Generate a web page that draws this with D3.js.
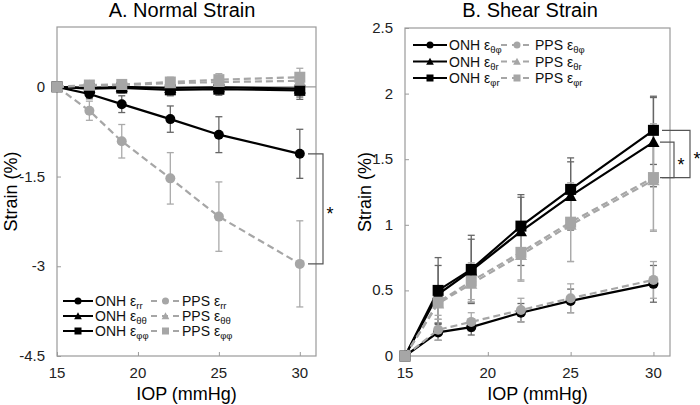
<!DOCTYPE html>
<html><head><meta charset="utf-8">
<script src="https://cdn.jsdelivr.net/npm/d3@7"></script>
<style>body{margin:0;background:#fff}svg{display:block;font-family:"Liberation Sans",Arial,sans-serif}</style>
</head><body><svg id="c" width="700" height="405"></svg>
<script>
const iop = [15, 17, 19, 22, 25, 30];
const xTicks = [15, 20, 25, 30];
const yTicksA = [0, -1.5, -3, -4.5];
const yTicksB = [0, 0.5, 1, 1.5, 2, 2.5];

// A. Normal strain
const onhRR = [0, -0.12, -0.29, -0.54, -0.80, -1.12];
const onhRRerr = [0, 0.08, 0.14, 0.22, 0.30, 0.41];
const onhTT = [0, -0.02, 0.00, -0.02, -0.01, -0.03];
const onhTTerr = [0, 0.06, 0.08, 0.10, 0.10, 0.14];
const onhPP = [0, -0.03, -0.02, -0.05, -0.04, -0.06];
const onhPPerr = [0, 0.06, 0.08, 0.10, 0.10, 0.15];
const ppsRR = [0, -0.40, -0.91, -1.53, -2.17, -2.96];
const ppsRRerr = [0, 0.16, 0.28, 0.43, 0.58, 0.72];
const ppsTT = [0, 0.02, 0.03, 0.06, 0.08, 0.10];
const ppsTTerr = [0, 0.05, 0.07, 0.08, 0.10, 0.12];
const ppsPP = [0, 0.03, 0.04, 0.08, 0.12, 0.16];
const ppsPPerr = [0, 0.05, 0.07, 0.08, 0.10, 0.15];

// B. Shear strain
const onhTP = [0, 0.18, 0.22, 0.33, 0.42, 0.55];
const onhTPerr = [0, 0.06, 0.06, 0.07, 0.09, 0.14];
const onhTR = [0, 0.47, 0.65, 0.95, 1.22, 1.63];
const onhTRerr = [0, 0.22, 0.24, 0.26, 0.26, 0.34];
const onhPR = [0, 0.50, 0.66, 0.99, 1.27, 1.72];
const onhPRerr = [0, 0.25, 0.26, 0.24, 0.24, 0.26];
const ppsTP = [0, 0.20, 0.26, 0.35, 0.44, 0.58];
const ppsTPerr = [0, 0.08, 0.07, 0.09, 0.11, 0.14];
const ppsTR = [0, 0.40, 0.55, 0.77, 1.00, 1.34];
const ppsTRerr = [0, 0.12, 0.14, 0.20, 0.28, 0.38];
const ppsPR = [0, 0.41, 0.57, 0.79, 1.02, 1.36];
const ppsPRerr = [0, 0.10, 0.14, 0.21, 0.30, 0.41];

const BLACK = "#000", GRAY = "#a6a6a6", AXIS = "#9a9a9a";
const svg = d3.select("#c");

function marker(g, shape, x, y, s, color) {
  if (shape === "circle") g.append("circle").attr("cx", x).attr("cy", y).attr("r", s / 2).attr("fill", color);
  else if (shape === "square") g.append("rect").attr("x", x - s / 2).attr("y", y - s / 2).attr("width", s).attr("height", s).attr("fill", color);
  else g.append("path").attr("d", `M${x},${y - s * 0.55}L${x + s * 0.55},${y + s * 0.45}L${x - s * 0.55},${y + s * 0.45}Z`).attr("fill", color);
}

function panel(cfg) {
  const x = d3.scaleLinear().domain([15, 31]).range(cfg.xr);
  const y = d3.scaleLinear().domain(cfg.yd).range(cfg.yr);
  const g = svg.append("g");
  g.append("rect").attr("x", cfg.xr[0]).attr("y", cfg.yr[1]).attr("width", cfg.xr[1] - cfg.xr[0])
    .attr("height", cfg.yr[0] - cfg.yr[1]).attr("fill", "none").attr("stroke", AXIS).attr("stroke-width", 1.2);
  if (cfg.yd[0] < 0) g.append("line").attr("x1", cfg.xr[0]).attr("x2", cfg.xr[1]).attr("y1", y(0)).attr("y2", y(0))
    .attr("stroke", AXIS).attr("stroke-width", 1.2);
  const ya = g.append("g").attr("transform", `translate(${cfg.xr[0]},0)`)
    .call(d3.axisRight(y).tickValues(cfg.yTicks).tickSize(4).tickFormat(""));
  ya.select(".domain").remove(); ya.selectAll("line").attr("stroke", AXIS);
  const xa = g.append("g").attr("transform", `translate(0,${cfg.yr[0]})`)
    .call(d3.axisTop(x).tickValues(xTicks).tickSize(4).tickFormat(""));
  xa.select(".domain").remove(); xa.selectAll("line").attr("stroke", AXIS);
  g.selectAll(".yl").data(cfg.yTicks).join("text").attr("x", cfg.xr[0] - 12).attr("y", d => y(d) + 5)
    .attr("text-anchor", "end").attr("font-size", 15).attr("fill", "#222").text(d => d);
  g.selectAll(".xl").data(xTicks).join("text").attr("x", d => x(d)).attr("y", cfg.yr[0] + 22)
    .attr("text-anchor", "middle").attr("font-size", 15).attr("fill", "#222").text(d => d);
  g.append("text").attr("x", cfg.titleX).attr("y", 17).attr("text-anchor", "middle").attr("font-size", 20).text(cfg.title);
  g.append("text").attr("x", (x(15) + x(31)) / 2).attr("y", 400).attr("text-anchor", "middle").attr("font-size", 18).text("IOP (mmHg)");
  g.append("text").attr("transform", `translate(${cfg.ylabX},${(cfg.yr[0] + cfg.yr[1]) / 2}) rotate(-90)`)
    .attr("text-anchor", "middle").attr("font-size", 18).text("Strain (%)");
  const line = d3.line().x((d, i) => x(iop[i])).y(d => y(d));
  cfg.series.forEach(s => {
    s.v.forEach((v, i) => {
      const e = s.e[i]; if (!e) return;
      const c = s.onh ? "#666" : "#aaa";
      g.append("line").attr("x1", x(iop[i])).attr("x2", x(iop[i])).attr("y1", y(v - e)).attr("y2", y(v + e)).attr("stroke", c).attr("stroke-width", 1.3);
      [v - e, v + e].forEach(t => g.append("line").attr("x1", x(iop[i]) - 3.5).attr("x2", x(iop[i]) + 3.5).attr("y1", y(t)).attr("y2", y(t)).attr("stroke", c).attr("stroke-width", 1.3));
    });
  });
  cfg.series.forEach(s => {
    g.append("path").attr("d", line(s.v)).attr("fill", "none").attr("stroke", s.onh ? BLACK : GRAY)
      .attr("stroke-width", 2.2).attr("stroke-dasharray", s.onh ? null : "7,4");
    s.v.forEach((v, i) => marker(g, s.shape, x(iop[i]), y(v), s.shape === "circle" ? 10 : 11, s.onh ? BLACK : GRAY));
  });
  const L = cfg.legend;
  cfg.series.forEach((s, k) => {
    const row = k % 3, col = s.onh ? 0 : 1;
    const ly = L.y0 + row * L.dy;
    const x0 = col === 0 ? L.a : L.c;
    const x1 = col === 0 ? L.b : L.d;
    g.append("line").attr("x1", x0).attr("x2", x1).attr("y1", ly).attr("y2", ly).attr("stroke", s.onh ? BLACK : GRAY)
      .attr("stroke-width", 2).attr("stroke-dasharray", s.onh ? null : "6,5");
    marker(g, s.shape, (x0 + x1) / 2, ly, 7, s.onh ? BLACK : GRAY);
    const t = g.append("text").attr("x", x1 + 2).attr("y", ly + 5).attr("font-size", L.fs).attr("fill", "#111");
    t.append("tspan").text((s.onh ? "ONH" : "PPS") + " ε");
    t.append("tspan").attr("font-size", L.fs * 0.68).attr("dy", 3).text(s.sub);
  });
  cfg.brackets.forEach(b => {
    g.append("path").attr("d", `M${b.x0},${y(b.y1)}H${b.xv}V${y(b.y2)}H${b.x0}`).attr("fill", "none").attr("stroke", "#555").attr("stroke-width", 1.2);
    g.append("text").attr("x", b.xs).attr("y", (y(b.y1) + y(b.y2)) / 2 + 11).attr("text-anchor", "middle").attr("font-size", 18).text("*");
  });
}

panel({
  xr: [57, 316], yd: [-4.5, 1], yr: [356, 27], yTicks: yTicksA, title: "A. Normal Strain", titleX: 182, ylabX: 17,
  series: [
    {v: onhRR, e: onhRRerr, onh: true, shape: "circle", sub: "rr"},
    {v: onhTT, e: onhTTerr, onh: true, shape: "triangle", sub: "θθ"},
    {v: onhPP, e: onhPPerr, onh: true, shape: "square", sub: "φφ"},
    {v: ppsRR, e: ppsRRerr, onh: false, shape: "circle", sub: "rr"},
    {v: ppsTT, e: ppsTTerr, onh: false, shape: "triangle", sub: "θθ"},
    {v: ppsPP, e: ppsPPerr, onh: false, shape: "square", sub: "φφ"}
  ],
  legend: {y0: 301, dy: 15, a: 63, b: 93, c: 151, d: 180, fs: 14},
  brackets: [{x0: 308, xv: 323, xs: 330, y1: onhRR[5], y2: ppsRR[5]}]
});

panel({
  xr: [405, 670], yd: [0, 2.5], yr: [356, 28], yTicks: yTicksB, title: "B. Shear Strain", titleX: 530, ylabX: 371,
  series: [
    {v: onhTP, e: onhTPerr, onh: true, shape: "circle", sub: "θφ"},
    {v: onhTR, e: onhTRerr, onh: true, shape: "triangle", sub: "θr"},
    {v: onhPR, e: onhPRerr, onh: true, shape: "square", sub: "φr"},
    {v: ppsTP, e: ppsTPerr, onh: false, shape: "circle", sub: "θφ"},
    {v: ppsTR, e: ppsTRerr, onh: false, shape: "triangle", sub: "θr"},
    {v: ppsPR, e: ppsPRerr, onh: false, shape: "square", sub: "φr"}
  ],
  legend: {y0: 45, dy: 16.5, a: 413, b: 447, c: 501, d: 533, fs: 14},
  brackets: [
    {x0: 660, xv: 674, xs: 681, y1: onhTR[5], y2: ppsPR[5]},
    {x0: 662, xv: 690, xs: 697, y1: onhPR[5], y2: ppsPR[5]}
  ]
});
</script></body></html>
